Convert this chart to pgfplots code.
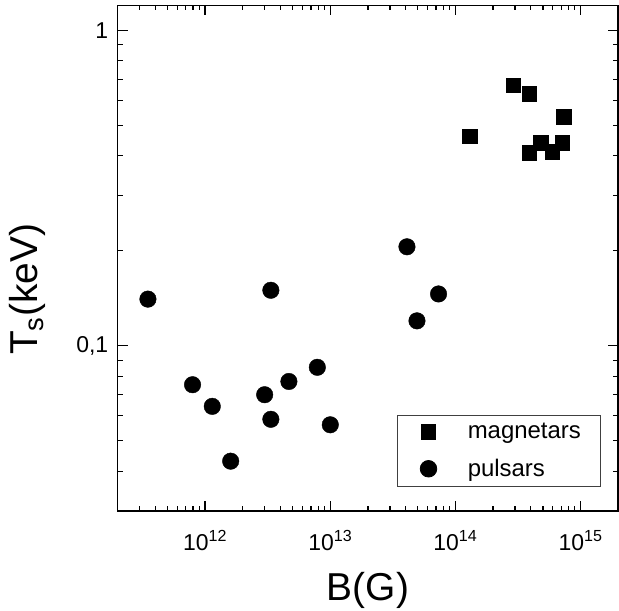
\documentclass[border=0pt]{standalone}
\usepackage{fontspec}
\setmainfont{Liberation Sans}
\usepackage{pgfplots}
\pgfplotsset{compat=1.18}
\begin{document}
\begin{tikzpicture}
\begin{axis}[
  at={(0,0)}, anchor=south west,
  scale only axis, width=502pt, height=507pt,
  xmode=log, ymode=log,
  xmin=2e11, xmax=2e15, ymin=0.03, ymax=1.2,
  axis line style={line width=1.5pt, black},
  tick align=inside, major tick length=10pt, minor tick length=5pt,
  every tick/.style={line width=1.3pt, black},
  xtick={1e12,1e13,1e14,1e15},
  xticklabels={10\textsuperscript{12},10\textsuperscript{13},10\textsuperscript{14},10\textsuperscript{15}},
  minor xtick={3e11,4e11,5e11,6e11,7e11,8e11,9e11,
               2e12,3e12,4e12,5e12,6e12,7e12,8e12,9e12,
               2e13,3e13,4e13,5e13,6e13,7e13,8e13,9e13,
               2e14,3e14,4e14,5e14,6e14,7e14,8e14,9e14},
  ytick={0.1,1}, yticklabels={{0,1},1},
  minor ytick={0.04,0.05,0.06,0.07,0.08,0.09,0.2,0.3,0.4,0.5,0.6,0.7,0.8,0.9},
  tick label style={font=\fontsize{23}{27}\selectfont},
  xticklabel style={yshift=-16pt},
  yticklabel style={xshift=-6pt},
  xlabel={B(G)}, ylabel={T\textsubscript{s}(keV)},
  label style={font=\fontsize{39}{44}\selectfont},
  xlabel style={at={(axis description cs:0.5,-0.158)}, anchor=center},
  ylabel style={at={(axis description cs:-0.1795,0.438)}, anchor=center, rotate=0},
  legend style={at={(0.966,0.047)}, anchor=south east, draw=black!75, line width=0.8pt,
    font=\fontsize{24}{28}\selectfont, inner xsep=18pt, inner ysep=6.5pt,
    row sep=15pt},
  legend cell align=left,
  legend image code/.code={%
    \path (0pt,0pt) (50pt,0pt);
    \draw[mark repeat=2,mark phase=2,#1] plot coordinates {(0pt,0pt) (13pt,0pt) (26pt,0pt)};},
]
\addplot[only marks, mark=square*, mark size=7.3pt, black] coordinates {
  (1.30e14,0.462) (2.90e14,0.670) (3.89e14,0.630) (7.34e14,0.532)
  (3.89e14,0.410) (4.79e14,0.441) (5.93e14,0.412) (7.13e14,0.441)
};
\addlegendentry{magnetars}
\addplot[only marks, mark=*, mark size=8.3pt, black] coordinates {
  (3.49e11,0.1406) (3.35e12,0.150) (4.10e13,0.206) (7.33e13,0.146)
  (4.93e13,0.120) (7.93e11,0.0753) (1.14e12,0.0643) (1.60e12,0.0431)
  (2.99e12,0.070) (3.35e12,0.0585) (4.67e12,0.0771) (7.88e12,0.0855)
  (1.00e13,0.0562)
};
\addlegendentry{pulsars}
\end{axis}
\pgfresetboundingbox
\useasboundingbox (-118pt,-100pt) rectangle (502.8pt,512.3pt);
\end{tikzpicture}
\end{document}
